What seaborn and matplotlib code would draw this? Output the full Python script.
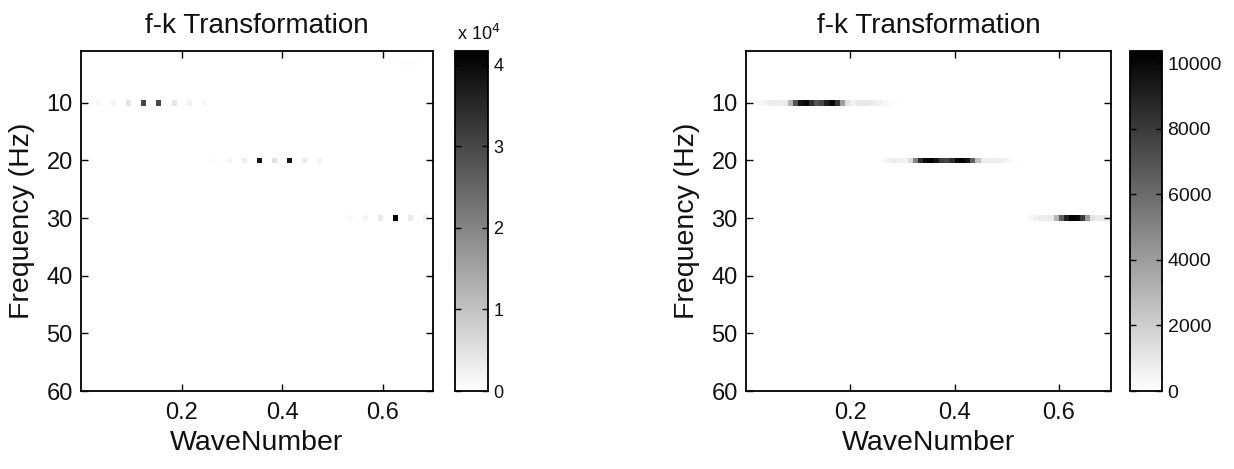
import numpy as np
import pandas as pd
import matplotlib
matplotlib.use("Agg")
import matplotlib.pyplot as plt
import seaborn as sns

sns.set_theme(style="white")
plt.rcParams['font.family'] = ['Liberation Sans', 'DejaVu Sans']
plt.rcParams['axes.axisbelow'] = False

# ---------------- data ----------------
freqs = list(range(1, 61))              # Hz, one row per Hz
dk = 0.01
n_k = 70
wavenumbers = [round(i * dk + dk / 2, 4) for i in range(n_k)]

# left panel: f-k amplitudes (sparse dots)
left_k_03 = [0.635, 0.645, 0.655, 0.665]
left_v_03 = [600, 700, 700, 600]
left_k_10 = [0.035, 0.065, 0.095, 0.125, 0.155, 0.185, 0.215, 0.245]
left_v_10 = [1200, 2000, 4500, 30000, 30000, 4000, 2000, 1200]
left_k_20 = [0.265, 0.295, 0.325, 0.355, 0.385, 0.415, 0.445, 0.475]
left_v_20 = [800, 1500, 3000, 38000, 5000, 38000, 3500, 2000]
left_k_30 = [0.535, 0.565, 0.595, 0.625, 0.655, 0.685]
left_v_30 = [1000, 2000, 3500, 41000, 3500, 2500]
left_vmax = 41700

# right panel: smoothed amplitudes (contiguous values from a start wavenumber)
right_k0_10 = 0.025
right_v_10 = [300, 500, 700, 800, 700, 900, 3000, 7000, 9500, 10000, 8500, 7000,
              7500, 9000, 10000, 8000, 4000, 1200, 600, 900, 1000, 900, 800, 600,
              400, 250, 150]
right_k0_20 = 0.265
right_v_20 = [300, 600, 800, 700, 500, 1500, 5000, 8500, 10000, 10300, 9500, 8000,
              7500, 8500, 10000, 10300, 9500, 6500, 2500, 800, 700, 800, 700, 500,
              300, 150]
right_k0_30 = 0.545
right_v_30 = [300, 600, 800, 700, 900, 3000, 6500, 9000, 10300, 10000, 8000, 4000,
              1200, 800, 900, 700]
right_vmax = 10370

k_ticks = [0.2, 0.4, 0.6]
k_ticklabels = ['0.2', '0.4', '0.6']
f_ticks = [10, 20, 30, 40, 50, 60]
left_cb_ticks = [0, 10000, 20000, 30000, 40000]
left_cb_labels = ['0', '1', '2', '3', '4']
right_cb_ticks = [0, 2000, 4000, 6000, 8000, 10000]
right_cb_labels = ['0', '2000', '4000', '6000', '8000', '10000']


def col_of(k):
    return int(round((k - dk / 2) / dk))


def build_sparse(pairs):
    m = np.zeros((len(freqs), n_k))
    for f, ks, vs in pairs:
        for k, v in zip(ks, vs):
            m[f - 1, col_of(k)] = v
    return m


def build_runs(runs):
    m = np.zeros((len(freqs), n_k))
    for f, k0, vs in runs:
        j0 = col_of(k0)
        for i, v in enumerate(vs):
            m[f - 1, j0 + i] = v
    return m


matL = build_sparse([(3, left_k_03, left_v_03), (10, left_k_10, left_v_10),
                     (20, left_k_20, left_v_20), (30, left_k_30, left_v_30)])
matR = build_runs([(10, right_k0_10, right_v_10), (20, right_k0_20, right_v_20),
                   (30, right_k0_30, right_v_30)])

dfL = pd.DataFrame(matL, index=freqs, columns=wavenumbers)
dfR = pd.DataFrame(matR, index=freqs, columns=wavenumbers)

# ---------------- figure ----------------
fig = plt.figure(figsize=(12.34, 4.69), dpi=100)
bottom, height = 78 / 469, 340 / 469
axL = fig.add_axes([81 / 1234, bottom, 352 / 1234, height])
caxL = fig.add_axes([455 / 1234, bottom, 33 / 1234, height])
axR = fig.add_axes([746 / 1234, bottom, 365 / 1234, height])
caxR = fig.add_axes([1130 / 1234, bottom, 32 / 1234, height])

sns.heatmap(dfL, ax=axL, cmap='gray_r', vmin=0, vmax=left_vmax, cbar_ax=caxL,
            xticklabels=False, yticklabels=False)
sns.heatmap(dfR, ax=axR, cmap='gray_r', vmin=0, vmax=right_vmax, cbar_ax=caxR,
            xticklabels=False, yticklabels=False)


def style(ax):
    ax.set_axisbelow(False)
    ax.set_xlim(0, n_k)
    ax.set_ylim(len(freqs) - 0.5, 0.5)
    ax.set_xticks([k / dk for k in k_ticks])
    ax.set_xticklabels(k_ticklabels)
    ax.set_yticks([f - 0.5 for f in f_ticks])
    ax.set_yticklabels([str(f) for f in f_ticks], rotation=0)
    for s in ax.spines.values():
        s.set_visible(True)
        s.set_color('black')
        s.set_linewidth(1.3)
        s.set_zorder(5)
    ax.tick_params(direction='in', top=True, right=True, bottom=True, left=True,
                   length=5, width=1, color='black', labelsize=17,
                   labelcolor='#111111')
    ax.tick_params(axis='x', pad=8)
    ax.tick_params(axis='y', pad=6)
    ax.set_xlabel('WaveNumber', fontsize=20.5, color='#111111', labelpad=4)
    ax.set_ylabel('Frequency (Hz)', fontsize=20.5, color='#111111', labelpad=8)
    ax.set_title('f-k Transformation', fontsize=20, color='#111111', pad=13)


style(axL)
style(axR)


def style_cb(ax, ticks, labels, size):
    cb = ax.collections[0].colorbar
    cb.ax.set_axisbelow(False)
    cb.set_ticks(ticks)
    cb.set_ticklabels(labels)
    cb.outline.set_visible(True)
    cb.outline.set_edgecolor('black')
    cb.outline.set_linewidth(1.3)
    cb.ax.tick_params(direction='in', left=True, right=True, length=4, width=1,
                      color='black', labelsize=size, labelcolor='#111111', pad=4)
    return cb


cbL = style_cb(axL, left_cb_ticks, left_cb_labels, 13)
cbR = style_cb(axR, right_cb_ticks, right_cb_labels, 14)
caxL.text(0.05, 1.02, r'x 10$^{4}$', transform=caxL.transAxes, ha='left',
          va='bottom', fontsize=13, color='#111111')

fig.savefig('out.png', dpi=100)
